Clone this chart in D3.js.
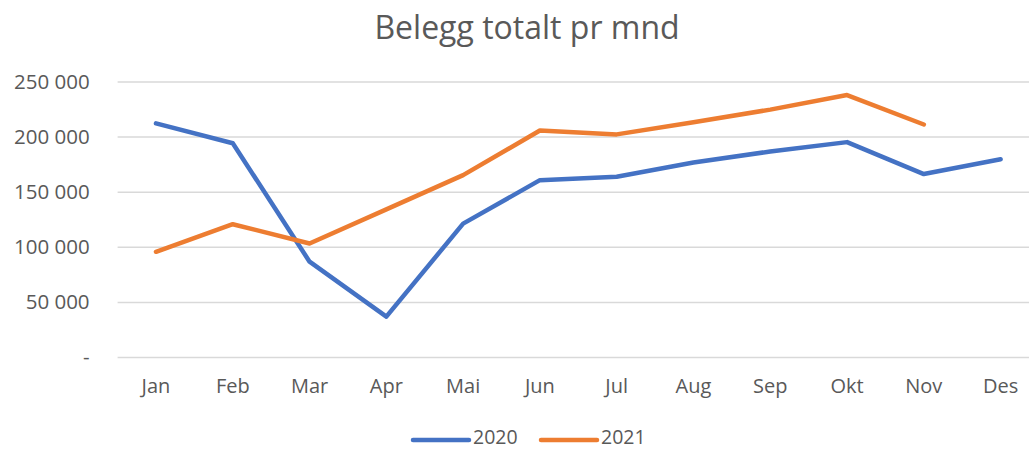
<!DOCTYPE html>
<html><head><meta charset="utf-8">
<script src="https://cdn.jsdelivr.net/npm/d3@7"></script>
<style>body{margin:0;background:#fff;} text{font-family:"Open Sans",sans-serif;}</style>
</head><body><svg id="c" width="1029" height="450"></svg>
<script>
const months = ["Jan","Feb","Mar","Apr","Mai","Jun","Jul","Aug","Sep","Okt","Nov","Des"];
const s2020 = [212000,194000,86500,36600,121000,160500,163500,176500,186500,195000,166000,179500];
const s2021 = [95500,120500,103000,134000,165000,205500,202000,213000,224500,237700,211000,null];
const yTicks = [0,50000,100000,150000,200000,250000];
const seriesNames = ["2020","2021"];
const colors = ["#4472C4","#ED7D31"];

const svg = d3.select("#c");
const x = d3.scaleBand().domain(months).range([117.6, 1039]);
const y = d3.scaleLinear().domain([0,250000]).range([357, 81.5]);
const fmt = v => v === 0 ? "-" : d3.format(",")(v).replace(/,/g, " ");
const FF = "'Open Sans',sans-serif";

svg.append("text").attr("x", 527).attr("y", 39).attr("text-anchor","middle")
  .attr("font-size", 32).attr("fill", "#595959").style("font-family", FF).text("Belegg totalt pr mnd");

const ya = svg.append("g").attr("transform","translate(117.6,0)")
  .call(d3.axisLeft(y).tickValues(yTicks).tickFormat(fmt).tickSize(-921.4).tickPadding(28));
ya.select(".domain").remove();
ya.selectAll("line").attr("stroke","#D9D9D9").attr("stroke-width",1.5);
ya.selectAll("text").attr("font-size",20.5).attr("fill","#595959").style("font-family", FF);

const xa = svg.append("g").attr("transform","translate(0,357)")
  .call(d3.axisBottom(x).tickSize(0).tickPadding(22));
xa.select(".domain").remove();
xa.selectAll("text").attr("font-size",20).attr("fill","#595959").style("font-family", FF);

[s2020, s2021].forEach((s, i) => {
  const line = d3.line().defined(d => d != null)
    .x((d, j) => x(months[j]) + x.bandwidth()/2).y(d => y(d));
  svg.append("path").datum(s).attr("d", line).attr("fill","none")
    .attr("stroke", colors[i]).attr("stroke-width", 4.5)
    .attr("stroke-linejoin","round").attr("stroke-linecap","round");
});

const lg = svg.append("g");
const lx = [413, 541];
seriesNames.forEach((n, i) => {
  lg.append("line").attr("x1", lx[i]).attr("x2", lx[i]+56).attr("y1", 440).attr("y2", 440)
    .attr("stroke", colors[i]).attr("stroke-width", 4.5).attr("stroke-linecap","round");
  lg.append("text").attr("x", lx[i]+60).attr("y", 444).attr("font-size", 19.5)
    .attr("fill","#595959").style("font-family", FF).text(n);
});
</script></body></html>
